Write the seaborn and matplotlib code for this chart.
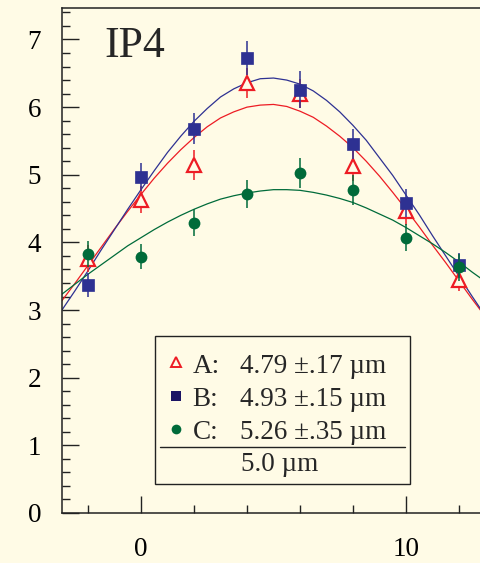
import numpy as np
import pandas as pd
import matplotlib
matplotlib.use('Agg')
import matplotlib.pyplot as plt
from matplotlib.ticker import MultipleLocator
from matplotlib.patches import Rectangle
import seaborn as sns

# mesures (positions de balayage)
scan_x = [-2, 0, 2, 4, 6, 8, 10, 12]
a_vals = [3.76, 4.63, 5.14, 6.36, 6.20, 5.13, 4.46, 3.45]
a_err = [0.20, 0.20, 0.22, 0.22, 0.22, 0.22, 0.20, 0.17]
b_vals = [3.37, 4.97, 5.68, 6.73, 6.26, 5.45, 4.58, 3.66]
b_err = [0.18, 0.21, 0.23, 0.25, 0.27, 0.22, 0.21, 0.18]
c_vals = [3.83, 3.79, 4.29, 4.72, 5.03, 4.77, 4.07, 3.63]
c_err = [0.19, 0.19, 0.20, 0.21, 0.22, 0.22, 0.20, 0.20]

# courbes ajustees
fit_x = [-3, -2.5, -2, -1.5, -1, -0.5, 0, 0.5, 1, 1.5, 2, 2.5, 3, 3.5, 4, 4.5, 5,
         5.5, 6, 6.5, 7, 7.5, 8, 8.5, 9, 9.5, 10, 10.5, 11, 11.5, 12, 12.5, 13]
a_fit = [3.13, 3.39, 3.66, 3.93, 4.20, 4.46, 4.71, 4.95, 5.17, 5.37, 5.55, 5.71, 5.84, 5.93, 6.00, 6.03, 6.04,
         6.01, 5.94, 5.85, 5.72, 5.57, 5.40, 5.20, 4.98, 4.74, 4.49, 4.23, 3.96, 3.70, 3.43, 3.16, 2.90]
b_fit = [2.99, 3.28, 3.58, 3.89, 4.19, 4.49, 4.78, 5.06, 5.33, 5.57, 5.79, 5.98, 6.15, 6.27, 6.36, 6.42, 6.43,
         6.40, 6.34, 6.24, 6.10, 5.93, 5.73, 5.51, 5.25, 4.99, 4.70, 4.41, 4.10, 3.80, 3.50, 3.20, 2.91]
c_fit = [3.23, 3.38, 3.53, 3.67, 3.81, 3.95, 4.07, 4.19, 4.30, 4.40, 4.49, 4.57, 4.64, 4.69, 4.73, 4.76, 4.78,
         4.78, 4.77, 4.74, 4.70, 4.65, 4.59, 4.51, 4.42, 4.33, 4.22, 4.10, 3.98, 3.85, 3.71, 3.56, 3.42]

labels = ['A:', 'B:', 'C:']
widths = ['4.79 \u00b1.17 \u00b5m', '4.93 \u00b1.15 \u00b5m', '5.26 \u00b1.35 \u00b5m']
mean_width = '5.0 \u00b5m'
panel = 'IP4'

bg = '#FFFBE6'
red = '#ED1C24'
blue = '#2E3192'
green = '#006B3A'

sns.set_style('ticks')
plt.rcParams['font.family'] = ['Liberation Serif', 'DejaVu Serif']

fig = plt.figure(figsize=(4.81, 5.63), dpi=100, facecolor=bg)
ax = fig.add_axes([62 / 481, 50 / 563, 419 / 481, 505.3 / 563])
ax.set_facecolor(bg)

fits = pd.DataFrame({'x': fit_x * 3,
                     'y': a_fit + b_fit + c_fit,
                     'serie': ['A'] * len(fit_x) + ['B'] * len(fit_x) + ['C'] * len(fit_x)})
sns.lineplot(data=fits, x='x', y='y', hue='serie', palette={'A': red, 'B': blue, 'C': green},
             lw=0.9, legend=False, ax=ax, zorder=2)

ax.errorbar(scan_x, a_vals, yerr=a_err, fmt='^', ms=9.5, mfc=bg, mec=red, mew=1.6,
            ecolor=red, elinewidth=1.1, capsize=0, zorder=3)
ax.errorbar(scan_x, b_vals, yerr=b_err, fmt='s', ms=8, mfc=blue, mec=blue, mew=0.5,
            ecolor=blue, elinewidth=1.1, capsize=0, zorder=4)
ax.errorbar(scan_x, c_vals, yerr=c_err, fmt='o', ms=8.5, mfc=green, mec=green, mew=0,
            ecolor=green, elinewidth=1.1, capsize=0, zorder=5)

ax.set_xlim(-2.98, 12.83)
ax.set_ylim(0, 7.47)
ax.set_xlabel('')
ax.set_ylabel('')

ax.xaxis.set_major_locator(MultipleLocator(10))
ax.xaxis.set_minor_locator(MultipleLocator(2))
ax.yaxis.set_major_locator(MultipleLocator(1))
ax.yaxis.set_minor_locator(MultipleLocator(0.2))
ax.tick_params(which='major', direction='in', length=12, width=1.0, color='#222222',
               labelsize=19.5, labelcolor='black')
ax.tick_params(which='minor', direction='in', length=6, width=1.0, color='#222222')
ax.tick_params(axis='y', which='major', pad=15)
ax.tick_params(axis='x', which='major', pad=17)

for s in ['left', 'bottom', 'top']:
    ax.spines[s].set_linewidth(1.1)
    ax.spines[s].set_color('#222222')
ax.spines['right'].set_visible(False)

ax.text(0.100, 0.902, panel, transform=ax.transAxes, fontsize=31.5, va='baseline', ha='left')

# cadre de legende
ax.add_patch(Rectangle((0.2227, 0.058), 0.6078, 0.2915, transform=ax.transAxes,
                       fill=False, ec='#222222', lw=1.0, zorder=6))
row_base = [0.2771, 0.2123, 0.1464]
row_mark = [0.2988, 0.2308, 0.1662]
styles = [dict(marker='^', ms=7, mfc='none', mec=red, mew=1.4),
          dict(marker='s', ms=6.5, mfc='#1B1464', mec='#1B1464', mew=0),
          dict(marker='o', ms=7, mfc=green, mec=green, mew=0)]
for lab, w, yb, ym, st in zip(labels, widths, row_base, row_mark, styles):
    ax.plot([0.2721], [ym], transform=ax.transAxes, ls='none', zorder=7, clip_on=False, **st)
    ax.text(0.3119, yb, lab, transform=ax.transAxes, fontsize=19.5, va='baseline', ha='left', zorder=7)
    ax.text(0.4248, yb, w, transform=ax.transAxes, fontsize=19.5, va='baseline', ha='left', zorder=7)
ax.plot([0.2339, 0.8186], [0.1306, 0.1306], transform=ax.transAxes, color='#222222', lw=1.0, zorder=7)
ax.text(0.519, 0.0823, mean_width, transform=ax.transAxes, fontsize=19.5, va='baseline', ha='center', zorder=7)

fig.savefig('out.png', dpi=100, facecolor=bg)
